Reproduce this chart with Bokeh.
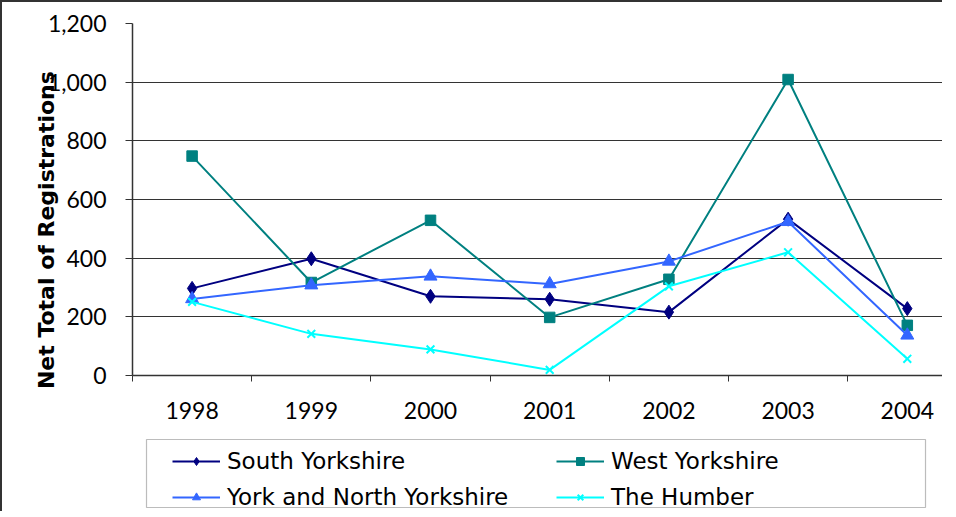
from bokeh.plotting import figure
from bokeh.layouts import column
from bokeh.models import (Range1d, FixedTicker, NumeralTickFormatter, Legend, LegendItem,
                          BoxAnnotation)
from bokeh.embed import file_html
from bokeh.resources import INLINE

years = ["1998", "1999", "2000", "2001", "2002", "2003", "2004"]
south_yorkshire = [297, 398, 270, 260, 216, 533, 228]
west_yorkshire = [748, 317, 529, 198, 328, 1009, 171]
york_north_yorkshire = [261, 308, 338, 312, 389, 524, 137]
the_humber = [251, 142, 89, 19, 304, 420, 57]
y_ticks = [0, 200, 400, 600, 800, 1000, 1200]
series_names = ["South Yorkshire", "West Yorkshire", "York and North Yorkshire", "The Humber"]
y_title = "Net Total of Registrations"

x = list(range(len(years)))

TICK_FONT = "Lato"
LEGEND_FONT = "DejaVu Sans"
W, H1, H2 = 940, 432, 77
LEFT, TOP, BOTTOM = 130, 21, 373
CAT_W = 119.2

p = figure(width=W, height=H1, output_backend="svg", toolbar_location=None,
           x_range=Range1d(-0.5, -0.5 + (W - LEFT) / CAT_W), y_range=Range1d(0, 1200),
           min_border_left=LEFT, min_border_right=0, min_border_top=TOP,
           min_border_bottom=H1 - BOTTOM)
p.outline_line_color = None
p.background_fill_color = "white"
p.border_fill_color = "white"

# x axis
p.xaxis.ticker = FixedTicker(ticks=x, minor_ticks=[i - 0.5 for i in range(len(years) + 1)])
p.xaxis.major_label_overrides = {i: y for i, y in enumerate(years)}
p.xaxis.major_tick_in = 0
p.xaxis.major_tick_out = 0
p.xaxis.minor_tick_in = 0
p.xaxis.minor_tick_out = 6
p.xaxis.minor_tick_line_color = "#333333"
p.xaxis.axis_line_color = "#333333"
p.xaxis.axis_line_width = 1.5
p.xaxis.major_label_standoff = 20
p.xaxis.major_label_text_font = TICK_FONT
p.xaxis.major_label_text_font_size = "23px"
p.xaxis.major_label_text_color = "black"
p.xgrid.visible = False

# y axis
p.yaxis.ticker = FixedTicker(ticks=y_ticks)
p.yaxis.formatter = NumeralTickFormatter(format="0,0")
p.yaxis.major_tick_in = 0
p.yaxis.major_tick_out = 7
p.yaxis.minor_tick_line_color = None
p.yaxis.major_tick_line_color = "#333333"
p.yaxis.axis_line_color = "#333333"
p.yaxis.axis_line_width = 1.5
p.yaxis.major_label_standoff = 19
p.yaxis.major_label_text_font = TICK_FONT
p.yaxis.major_label_text_font_size = "23px"
p.yaxis.major_label_text_color = "black"
p.yaxis.axis_label = y_title + "\u00a0" * 8
p.yaxis.axis_label_text_font = "DejaVu Sans"
p.yaxis.axis_label_text_font_style = "bold"
p.yaxis.axis_label_text_font_size = "22px"
p.yaxis.axis_label_text_color = "black"
p.yaxis.axis_label_standoff = -14
p.ygrid.ticker = FixedTicker(ticks=y_ticks)
p.ygrid.grid_line_color = "#333333"
p.ygrid.grid_line_width = 1
p.ygrid.grid_line_alpha = 1

styles = [
    dict(color="#000080", marker="diamond", size=14),
    dict(color="#008080", marker="square", size=10.5),
    dict(color="#3366FF", marker="triangle", size=13),
    dict(color="#00FFFF", marker="x", size=11),
]
values = [south_yorkshire, west_yorkshire, york_north_yorkshire, the_humber]

for vals, st in zip(values, styles):
    p.line(x, vals, line_color=st["color"], line_width=2)
    p.scatter(x, vals, marker=st["marker"], size=st["size"],
              fill_color=st["color"], line_color=st["color"],
              line_width=2 if st["marker"] == "x" else 1)

# legend strip below the chart; its view range is placed away from the data,
# so its renderers only serve as legend glyphs
p2 = figure(width=W, height=H2, output_backend="svg", toolbar_location=None,
            x_range=Range1d(-100, -99), y_range=Range1d(0, 1),
            x_axis_type=None, y_axis_type=None,
            min_border_left=0, min_border_right=0, min_border_top=0, min_border_bottom=0)
p2.outline_line_color = None
p2.background_fill_color = "white"
p2.border_fill_color = "white"

items = []
for name, vals, st in zip(series_names, values, styles):
    lr = p2.line(x, vals, line_color=st["color"], line_width=2)
    sr = p2.scatter(x, vals, marker=st["marker"], size=st["size"],
                    fill_color=st["color"], line_color=st["color"],
                    line_width=2 if st["marker"] == "x" else 1)
    items.append(LegendItem(label=name, renderers=[lr, sr]))

legend = Legend(items=items, orientation="horizontal", ncols=2,
                location=(40, 1), margin=0, padding=0, spacing=10,
                glyph_width=48, glyph_height=20, label_standoff=7, label_width=319,
                label_text_font=LEGEND_FONT, label_text_font_size="23px",
                label_text_color="black",
                border_line_color=None, background_fill_alpha=0)
p2.add_layout(legend, "center")
p2.add_layout(BoxAnnotation(left=144, right=923, top=5, bottom=73,
                            left_units="canvas", right_units="canvas",
                            top_units="canvas", bottom_units="canvas",
                            fill_alpha=0, line_color="#222222", line_width=1.2))

layout = column(p, p2, spacing=0,
                styles={"border-left": "2px solid #333333", "border-top": "2px solid #333333"})

open("out.html", "w").write(file_html(layout, INLINE))
